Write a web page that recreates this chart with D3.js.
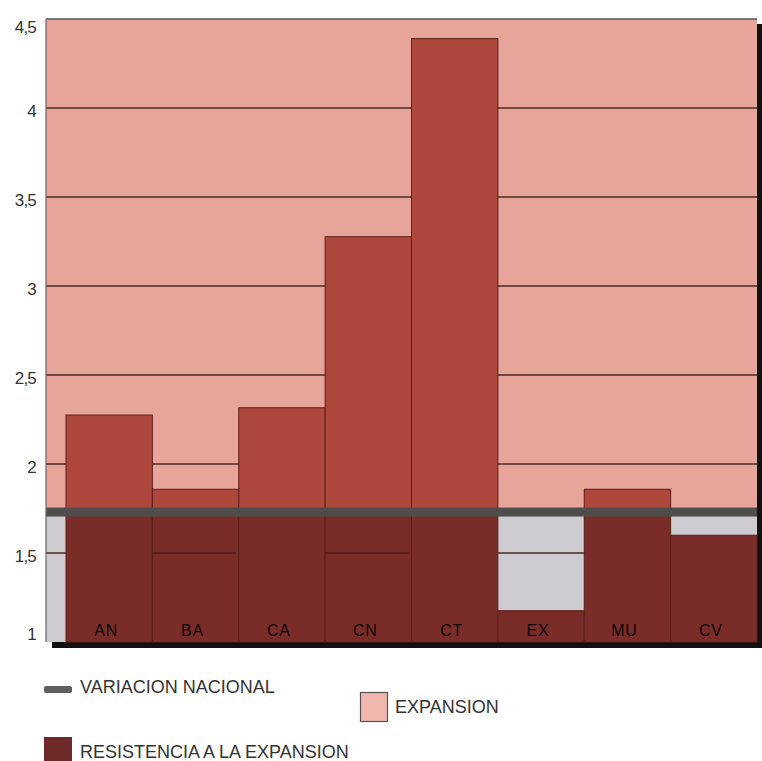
<!DOCTYPE html>
<html><head><meta charset="utf-8">
<script src="https://cdn.jsdelivr.net/npm/d3@7"></script>
<style>html,body{margin:0;padding:0;background:#fff;}svg{display:block;}</style>
</head><body>
<svg id="c" width="762" height="761"></svg>
<script>
const categories = ["AN","BA","CA","CN","CT","EX","MU","CV"];
const values = [2.275, 1.858, 2.316, 3.277, 4.39, 1.176, 1.858, 1.60];
const nationalValue = 1.73;
const yTicks = [1, 1.5, 2, 2.5, 3, 3.5, 4, 4.5];
const yTickLabels = ["1","1,5","2","2,5","3","3,5","4","4,5"];
const legendLabels = ["VARIACION NACIONAL","EXPANSION","RESISTENCIA A LA EXPANSION"];

(function () {
const svg = d3.select("#c");
const pLeft = 46, stripRight = 66, pRight = 757, pTop = 19, pBottom = 642;
const y = d3.scaleLinear().domain([1, 4.5]).range([pBottom, pTop]);
const x = d3.scaleBand().domain(categories).range([stripRight, pRight]).padding(0);

const C = {
  pink: "#e6a49b", grey: "#cdcbcf", barUp: "#ae483c", barLow: "#7a2c29",
  band: "#4f4d4c", grid: "#4a2a22", edge: "#5e1f1a", text: "#333"
};

// drop shadow
svg.append("rect").attr("x", pLeft + 6).attr("y", pTop + 5)
  .attr("width", pRight - pLeft).attr("height", pBottom - pTop + 1).attr("fill", "#111");

// backgrounds
svg.append("rect").attr("x", pLeft).attr("y", y(4.5)).attr("width", pRight - pLeft)
  .attr("height", y(nationalValue) - y(4.5)).attr("fill", C.pink);
svg.append("rect").attr("x", pLeft).attr("y", y(nationalValue)).attr("width", pRight - pLeft)
  .attr("height", y(1) - y(nationalValue)).attr("fill", C.grey);

// gridlines
svg.append("g").selectAll("line").data(yTicks.filter(t => t > 1 && t < 4.5)).join("line")
  .attr("x1", pLeft).attr("x2", pRight).attr("y1", d => y(d)).attr("y2", d => y(d))
  .attr("stroke", C.grid).attr("stroke-width", 1.3);

// bars
const bars = categories.map((c, i) => ({c, v: values[i]}));
const g = svg.append("g");
g.selectAll("rect.up").data(bars.filter(d => d.v > nationalValue)).join("rect")
  .attr("class", "up")
  .attr("x", d => x(d.c)).attr("width", x.bandwidth())
  .attr("y", d => y(d.v)).attr("height", d => y(nationalValue) - y(d.v))
  .attr("fill", C.barUp).attr("stroke", C.edge).attr("stroke-width", 1);
g.selectAll("rect.low").data(bars).join("rect")
  .attr("class", "low")
  .attr("x", d => x(d.c)).attr("width", x.bandwidth())
  .attr("y", d => y(Math.min(d.v, nationalValue))).attr("height", d => y(1) - y(Math.min(d.v, nationalValue)))
  .attr("fill", C.barLow).attr("stroke", C.edge).attr("stroke-width", 1);

// gridline traces visible across some bars in the original print
const tracedBars = ["BA","CN"];
g.selectAll("line.trace").data(tracedBars).join("line")
  .attr("x1", d => x(d)).attr("x2", d => x(d) + x.bandwidth() - 3)
  .attr("y1", y(1.5)).attr("y2", y(1.5)).attr("stroke", "#3a1210").attr("stroke-width", 1.2);

// national band
svg.append("rect").attr("x", pLeft).attr("y", y(nationalValue) - 4.5).attr("width", pRight - pLeft)
  .attr("height", 9).attr("fill", C.band);

// frame
svg.append("line").attr("x1", pLeft).attr("x2", pRight).attr("y1", pTop).attr("y2", pTop)
  .attr("stroke", "#555").attr("stroke-width", 1.5);
svg.append("line").attr("x1", pLeft).attr("x2", pLeft).attr("y1", pTop).attr("y2", pBottom)
  .attr("stroke", "#666").attr("stroke-width", 1.2);

const ff = "Liberation Sans, Arial, sans-serif";
// category labels
svg.append("g").selectAll("text").data(categories).join("text")
  .attr("x", d => x(d) + x.bandwidth() / 2 - 3).attr("y", 636)
  .attr("text-anchor", "middle").attr("font-family", ff)
  .attr("font-size", 16).attr("fill", "#0c0606").attr("letter-spacing", "0.8")
  .text(d => d);

// y axis labels
const axis = d3.axisLeft(y).tickValues(yTicks).tickSize(0).tickPadding(10)
  .tickFormat((d, i) => yTickLabels[i]);
const ag = svg.append("g").attr("transform", `translate(${pLeft},0)`).call(axis);
ag.select(".domain").remove();
ag.selectAll("text").attr("font-family", ff)
  .attr("font-size", 17).attr("fill", C.text).attr("letter-spacing", "-0.8")
  .attr("dy", d => d === 4.5 ? "0.8em" : d === 1 ? "-0.15em" : "0.52em");

// legend
const lg = svg.append("g");
lg.append("rect").attr("x", 44).attr("y", 686).attr("width", 28).attr("height", 7).attr("rx", 2)
  .attr("fill", "#5f5f5f");
lg.append("text").attr("x", 80).attr("y", 693).text(legendLabels[0]);
lg.append("rect").attr("x", 360.5).attr("y", 692.5).attr("width", 27).attr("height", 29)
  .attr("fill", "#efb7ae").attr("stroke", "#555").attr("stroke-width", 1.2);
lg.append("text").attr("x", 395).attr("y", 713).text(legendLabels[1]);
lg.append("rect").attr("x", 44).attr("y", 737).attr("width", 28).attr("height", 24)
  .attr("fill", "#6e2a28");
lg.append("text").attr("x", 80).attr("y", 758).text(legendLabels[2]);
lg.selectAll("text").attr("font-family", ff).attr("font-size", 18).attr("fill", C.text);
})();
</script>
</body></html>
